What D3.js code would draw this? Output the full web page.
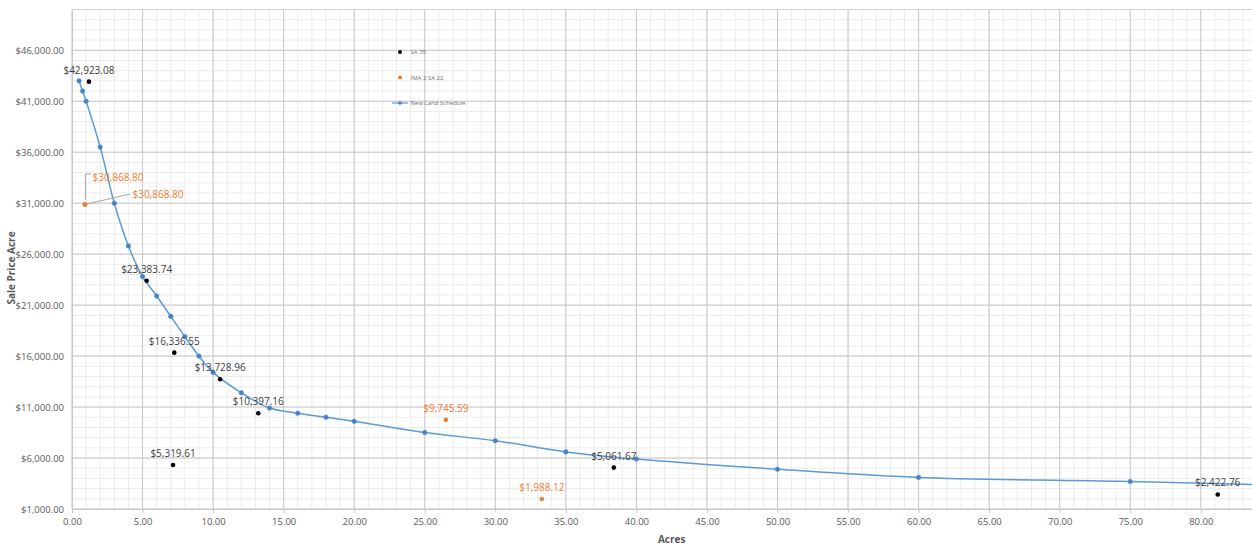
<!DOCTYPE html>
<html>
<head>
<meta charset="utf-8">
<script src="https://cdn.jsdelivr.net/npm/d3@7"></script>
<style>
  html, body { margin: 0; padding: 0; background: #fff; }
  svg { display: block; }
  text { font-family: "Open Sans", "Noto Sans", sans-serif; }
</style>
</head>
<body>
<script>
// ---- data ----
const scheduleAcres = [0.5, 0.75, 1, 2, 3, 4, 5, 6, 7, 8, 9, 10, 12, 14, 16, 18, 20, 25, 30, 35, 40, 50, 60, 75, 85];
const schedulePrice = [43000, 42000, 41000, 36500, 31000, 26800, 23800, 21900, 19900, 17900, 16000, 14400, 12400, 10900, 10400, 10000, 9600, 8500, 7700, 6600, 5900, 4900, 4100, 3700, 3350];

const sa35Acres = [1.2, 5.29, 7.25, 10.5, 13.2, 7.16, 38.4, 81.2];
const sa35Price = [42923.08, 23383.74, 16336.55, 13728.96, 10397.16, 5319.61, 5061.67, 2422.76];

const ima2Acres = [0.92, 0.92, 26.5, 33.3];
const ima2Price = [30868.80, 30868.80, 9745.59, 1988.12];

const seriesNames = ["SA 35", "IMA 2 SA 22", "New Land Schedule"];
const xTicks = d3.range(0, 81, 5);
const yTicks = d3.range(1000, 46001, 5000);
const xTitle = "Acres";
const yTitle = "Sale Price Acre";

// ---- layout ----
const W = 1252, H = 547;
const mLeft = 72, mTop = 9.5, mBottom = 509;
const xMax = 85, yMin = 1000, yMax = 50000;
const pxPerAcre = 14.11;
const mRight = mLeft + xMax * pxPerAcre;

const blue = "#5B9BD5", blueMarker = "#4A7EC2", orange = "#ED7D31";
const gridMajor = "#C8C8C8", gridMinor = "#ECECEC", axisText = "#595959";

const svg = d3.select("body").append("svg").attr("width", W).attr("height", H);

const x = d3.scaleLinear().domain([0, xMax]).range([mLeft, mRight]);
const y = d3.scaleLinear().domain([yMin, yMax]).range([mBottom, mTop]);

// gridlines
const g = svg.append("g");
g.selectAll("line.xminor").data(d3.range(0, xMax + 1, 1)).enter().append("line")
  .attr("x1", d => x(d)).attr("x2", d => x(d)).attr("y1", mTop).attr("y2", mBottom)
  .attr("stroke", gridMinor).attr("stroke-width", 1);
g.selectAll("line.yminor").data(d3.range(yMin, yMax + 1, 1000)).enter().append("line")
  .attr("x1", mLeft).attr("x2", mRight).attr("y1", d => y(d)).attr("y2", d => y(d))
  .attr("stroke", gridMinor).attr("stroke-width", 1);
g.selectAll("line.xmajor").data(d3.range(0, xMax + 1, 5)).enter().append("line")
  .attr("x1", d => x(d)).attr("x2", d => x(d)).attr("y1", mTop).attr("y2", mBottom)
  .attr("stroke", gridMajor).attr("stroke-width", 1);
g.selectAll("line.ymajor").data(yTicks).enter().append("line")
  .attr("x1", mLeft).attr("x2", mRight).attr("y1", d => y(d)).attr("y2", d => y(d))
  .attr("stroke", gridMajor).attr("stroke-width", 1);
g.append("line").attr("x1", mLeft).attr("x2", mRight).attr("y1", y(yMax)).attr("y2", y(yMax))
  .attr("stroke", "#D4D4D4");

// axes
const xAxis = d3.axisBottom(x).tickValues(xTicks).tickFormat(d3.format(".2f")).tickSize(4).tickPadding(5);
const yAxis = d3.axisLeft(y).tickValues(yTicks).tickFormat(d => "$" + d3.format(",.2f")(d)).tickSize(0).tickPadding(8);

const xa = svg.append("g").attr("transform", `translate(0,${mBottom})`).call(xAxis);
const ya = svg.append("g").attr("transform", `translate(${mLeft},0)`).call(yAxis);
[xa, ya].forEach(a => {
  a.select(".domain").attr("stroke", gridMajor);
  a.selectAll(".tick line").attr("stroke", gridMajor);
  a.selectAll(".tick text").attr("fill", axisText).style("font-size", "9.5px")
    .style("font-family", "'Open Sans', sans-serif");
});

// axis titles
svg.append("text").attr("x", (mLeft + mRight) / 2).attr("y", 543).attr("text-anchor", "middle")
  .attr("fill", axisText).style("font-size", "10px").style("font-weight", "bold").text(xTitle);
svg.append("text").attr("transform", "translate(15,268) rotate(-90)").attr("text-anchor", "middle")
  .attr("fill", axisText).style("font-size", "10px").style("font-weight", "bold").text(yTitle);

// clip
svg.append("clipPath").attr("id", "clip").append("rect")
  .attr("x", mLeft - 5).attr("y", mTop - 5).attr("width", mRight - mLeft + 10).attr("height", mBottom - mTop + 10);
const plot = svg.append("g").attr("clip-path", "url(#clip)");

// schedule line
const sched = scheduleAcres.map((a, i) => ({ a, p: schedulePrice[i] }));
plot.append("path").datum(sched)
  .attr("d", d3.line().x(d => x(d.a)).y(d => y(d.p)).curve(d3.curveCatmullRom.alpha(0.5)))
  .attr("fill", "none").attr("stroke", blue).attr("stroke-width", 1.5);
plot.selectAll("circle.sched").data(sched).enter().append("circle")
  .attr("cx", d => x(d.a)).attr("cy", d => y(d.p)).attr("r", 2.3)
  .attr("fill", blueMarker).attr("stroke", blue).attr("stroke-width", 0.6);

// SA 35 points
const sa = sa35Acres.map((a, i) => ({ a, p: sa35Price[i] }));
plot.selectAll("circle.sa").data(sa).enter().append("circle")
  .attr("cx", d => x(d.a)).attr("cy", d => y(d.p)).attr("r", 2.3).attr("fill", "#000");
const money = d => "$" + d3.format(",.2f")(d);
svg.selectAll("text.sal").data(sa).enter().append("text")
  .attr("x", d => x(d.a)).attr("y", d => y(d.p) - 8).attr("text-anchor", "middle")
  .attr("fill", "#404040").style("font-size", "10px").text(d => money(d.p));

// IMA 2 SA 22 points
const ima = ima2Acres.map((a, i) => ({ a, p: ima2Price[i], i }));
plot.selectAll("circle.ima").data(ima).enter().append("circle")
  .attr("cx", d => x(d.a)).attr("cy", d => y(d.p)).attr("r", 2.3).attr("fill", orange);

ima.forEach(d => {
  const px = x(d.a), py = y(d.p);
  if (d.i === 0) {
    svg.append("path").attr("d", `M${px + 0.5},${py - 4} V${py - 30.5} H${px + 6}`)
      .attr("fill", "none").attr("stroke", "#A6A6A6").attr("stroke-width", 1);
    svg.append("text").attr("x", px + 7.5).attr("y", py - 27).attr("dy", "0.35em")
      .attr("fill", orange).style("font-size", "10px").text(money(d.p));
  } else if (d.i === 1) {
    svg.append("line").attr("x1", px + 2).attr("y1", py - 0.5).attr("x2", px + 45).attr("y2", py - 10.5)
      .attr("stroke", "#A6A6A6").attr("stroke-width", 1);
    svg.append("text").attr("x", px + 47.5).attr("y", py - 10.5).attr("dy", "0.35em")
      .attr("fill", orange).style("font-size", "10px").text(money(d.p));
  } else {
    svg.append("text").attr("x", px).attr("y", py - 8).attr("text-anchor", "middle")
      .attr("fill", orange).style("font-size", "10px").text(money(d.p));
  }
});

// legend
const lg = svg.append("g");
const legY = [52, 77.5, 103];
lg.append("circle").attr("cx", 400).attr("cy", legY[0]).attr("r", 2).attr("fill", "#000");
lg.append("circle").attr("cx", 400).attr("cy", legY[1]).attr("r", 2).attr("fill", orange);
lg.append("line").attr("x1", 392).attr("x2", 408).attr("y1", legY[2]).attr("y2", legY[2])
  .attr("stroke", blue).attr("stroke-width", 1.2);
lg.append("circle").attr("cx", 400).attr("cy", legY[2]).attr("r", 1.8).attr("fill", blueMarker);
seriesNames.forEach((n, i) => {
  lg.append("text").attr("x", 410.5).attr("y", legY[i]).attr("dy", "0.35em")
    .attr("fill", "#6F6F6F").style("font-size", "6px").text(n);
});
</script>
</body>
</html>
